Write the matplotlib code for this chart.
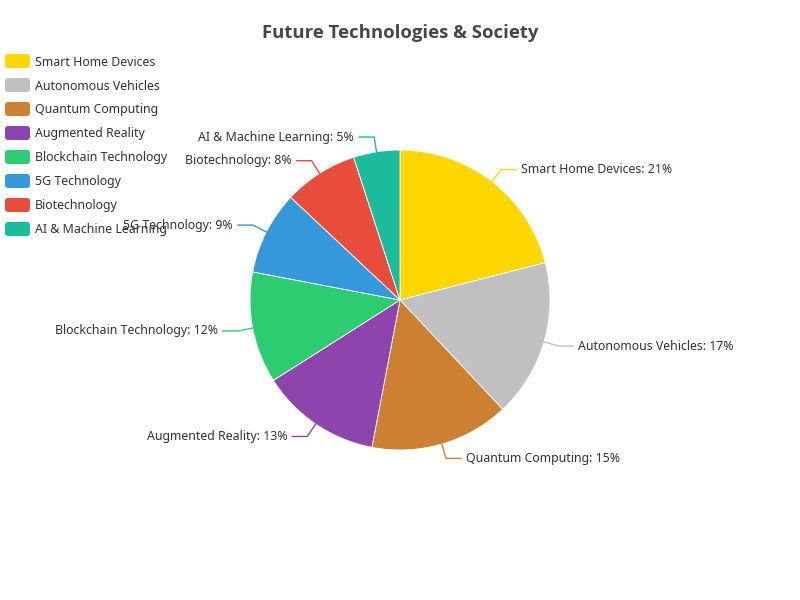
import numpy as np
import matplotlib
matplotlib.use("Agg")
import matplotlib.pyplot as plt
from matplotlib.patches import FancyBboxPatch

categories = ["Smart Home Devices", "Autonomous Vehicles", "Quantum Computing",
              "Augmented Reality", "Blockchain Technology", "5G Technology",
              "Biotechnology", "AI & Machine Learning"]
values = [21, 17, 15, 13, 12, 9, 8, 5]
colors = ["#FFD700", "#C0C0C0", "#CD7F32", "#8E44AD", "#2ECC71", "#3498DB",
          "#E74C3C", "#1ABC9C"]
title = "Future Technologies & Society"

FONT = ["Noto Sans", "DejaVu Sans"]
W, H = 800, 600
fig = plt.figure(figsize=(8, 6), dpi=100)
ax = fig.add_axes([0, 0, 1, 1])
ax.set_xlim(0, W)
ax.set_ylim(0, H)
ax.set_aspect("equal")
ax.axis("off")

def Y(y):
    return H - y

cx, cy, r = 400, 300, 150
wedges, _ = ax.pie(values, colors=colors, startangle=90, counterclock=False,
                   center=(cx, Y(cy)), radius=r, frame=True,
                   wedgeprops=dict(edgecolor="white", linewidth=0.6))
ax.set_xlim(0, W)
ax.set_ylim(0, H)
ax.axis("off")

total = sum(values)
cum = 0
for name, v, c in zip(categories, values, colors):
    mid = 90 - (cum + v / 2) / total * 360
    cum += v
    a = np.deg2rad(mid)
    dx, dy = np.cos(a), np.sin(a)
    p1 = (cx + r * dx, Y(cy) + r * dy)
    p2 = (cx + (r + 15) * dx, Y(cy) + (r + 15) * dy)
    s = 1 if dx >= 0 else -1
    p3 = (p2[0] + s * 15, p2[1])
    ax.plot([p1[0], p2[0], p3[0]], [p1[1], p2[1], p3[1]], color=c, lw=1,
            solid_joinstyle="miter")
    ax.text(p3[0] + s * 5, p3[1], f"{name}: {v}%", ha="left" if s > 0 else "right",
            va="center", fontsize=8.9, color="#333333", family=FONT)

# legend
for i, (name, c) in enumerate(zip(categories, colors)):
    yc = 61 + 24 * i
    box = FancyBboxPatch((5, Y(yc) - 7), 25, 14,
                         boxstyle="round,pad=0,rounding_size=3",
                         facecolor=c, edgecolor="none")
    ax.add_patch(box)
    ax.text(35, Y(yc) - 1, name, ha="left", va="center", fontsize=8.9,
            color="#333333", family=FONT)

ax.text(400, Y(33.5), title, ha="center", va="center", fontsize=13.3,
        fontweight="bold", color="#464646", family=["Open Sans", "DejaVu Sans"])

fig.savefig("out.png", dpi=100, facecolor="white")
